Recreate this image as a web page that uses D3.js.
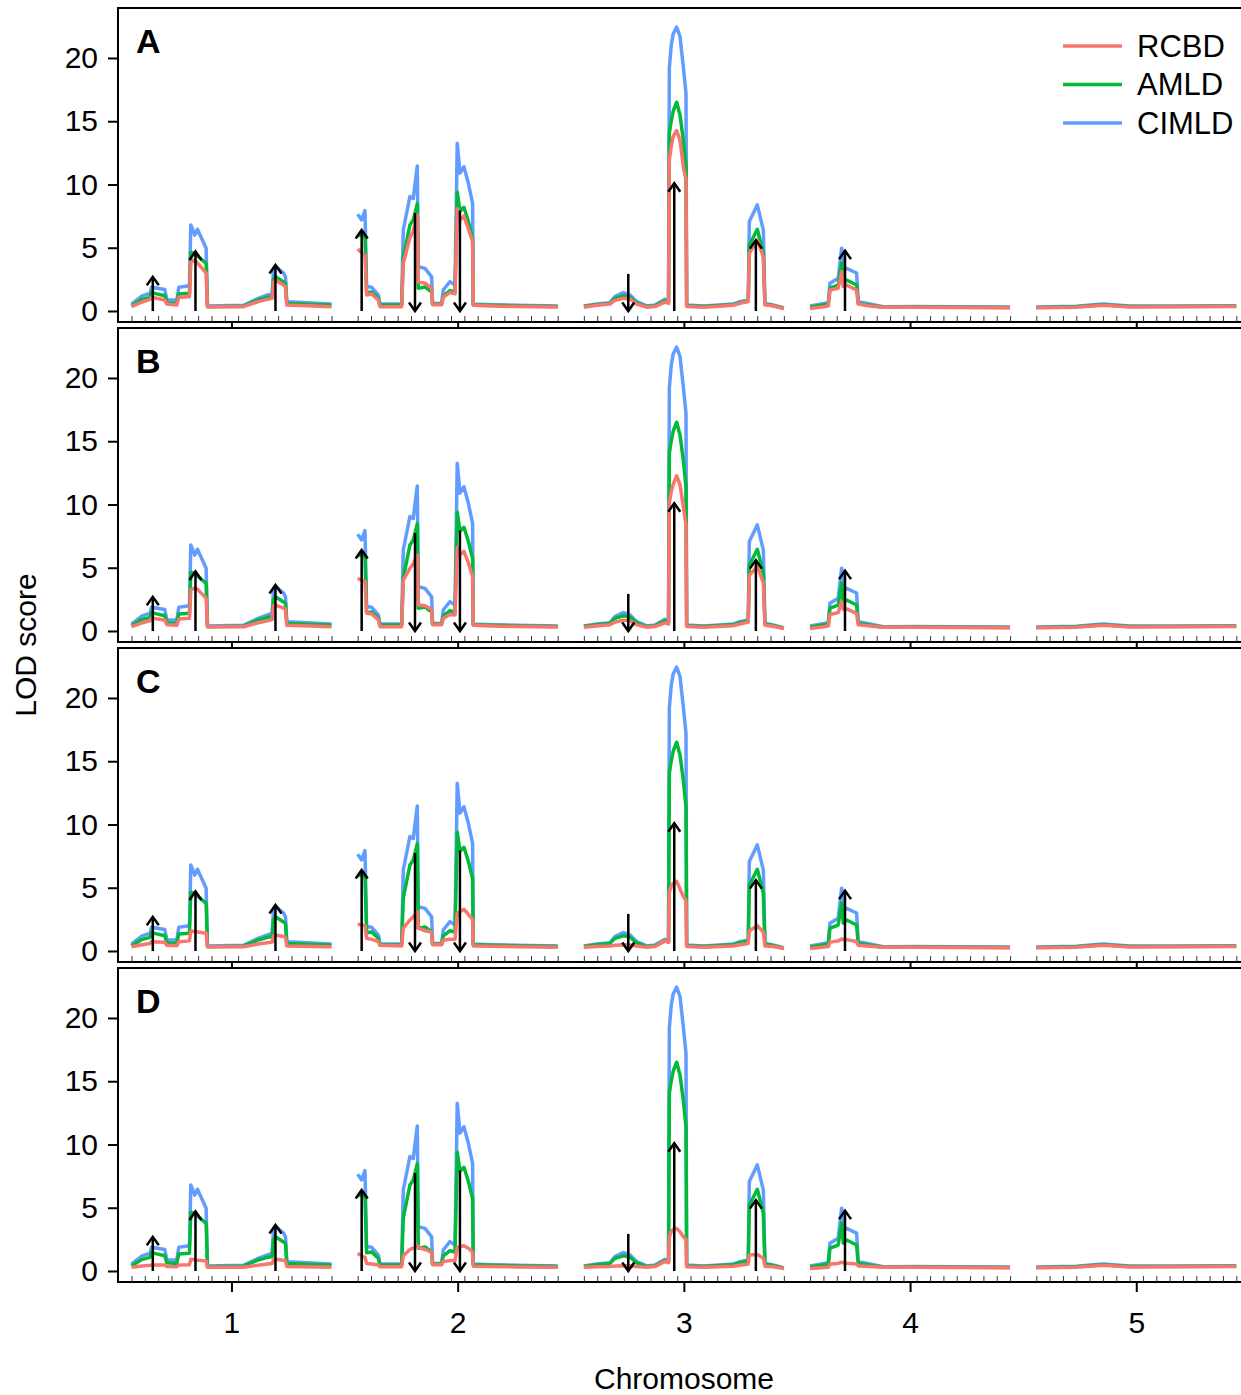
<!DOCTYPE html>
<meta charset="utf-8">
<style>
body { margin: 0; background: #fff; }
text { font-family: "Liberation Sans", Arial, sans-serif; fill: #000; }
</style>
<body>
<svg width="1241" height="1395"></svg>
<script src="https://d3js.org/d3.v7.min.js"></script>
<script>

// ---- data ----
var chromosomes = ["1", "2", "3", "4", "5"];
var panels = ["A", "B", "C", "D"];
var seriesNames = ["RCBD", "AMLD", "CIMLD"];
var yTicks = [0, 5, 10, 15, 20];
var markers = [0, 10, 20, 30, 40, 50, 60, 70, 80, 90, 100, 110, 120, 130, 140, 150];

// positions (cM) within each chromosome
var pos1 = [0, 8, 14, 15, 25, 26.5, 34, 35.5, 43.5, 44.5, 47.5, 49.5, 56, 57, 84, 95, 102, 105.5, 106.5, 108, 114, 115.5, 116.5, 150];
var pos2 = [0, 3, 5.5, 6.7, 10.5, 15.5, 16.7, 33, 34.2, 39.2, 41.7, 44.7, 45.5, 50.5, 55.5, 56.2, 63, 64.2, 69.2, 73, 74.7, 76.7, 79.7, 83, 86.2, 86.7, 100, 120, 150];
var pos3 = [0, 9.6, 19.6, 23.3, 29.6, 34.6, 39.6, 47.1, 53.3, 60.8, 63.5, 64.1, 65.5, 67, 69.6, 72.1, 74.6, 76.6, 77.1, 90, 112, 117, 123.3, 124.1, 130.1, 134.6, 135.8, 142, 150];
var pos4 = [0, 13.7, 14.9, 21.1, 23.7, 24.9, 27.4, 34.9, 36.1, 45, 55, 80, 110, 150];
var pos5 = [0, 30, 50, 70, 100, 150];

// CIMLD (same in every panel)
var cimld1 = [0.55, 1.2, 1.4, 1.87, 1.7, 0.87, 0.87, 1.87, 2.0, 6.8, 6.0, 6.46, 4.96, 0.4, 0.45, 1.0, 1.27, 1.4, 3.24, 3.56, 3.0, 2.7, 0.74, 0.55];
var cimld2 = [7.65, 7.2, 7.94, 1.93, 1.87, 1.27, 0.55, 0.55, 6.4, 9.05, 8.9, 11.47, 3.5, 3.37, 2.7, 0.6, 0.6, 1.66, 2.32, 2.06, 13.26, 10.9, 11.4, 10.1, 8.5, 0.55, 0.5, 0.45, 0.4];
var cimld3 = [0.4, 0.55, 0.66, 1.13, 1.45, 1.27, 0.74, 0.4, 0.47, 0.92, 0.8, 19.2, 21.0, 21.9, 22.44, 21.7, 19.3, 17.2, 0.47, 0.4, 0.55, 0.74, 0.87, 7.07, 8.39, 6.4, 0.6, 0.47, 0.25];
var cimld4 = [0.4, 0.66, 2.19, 2.58, 4.96, 3.24, 3.37, 3.0, 0.74, 0.55, 0.34, 0.36, 0.34, 0.32];
var cimld5 = [0.32, 0.38, 0.55, 0.4, 0.4, 0.42];

// AMLD (same in every panel)
var amld1 = [0.4, 0.92, 1.08, 1.45, 1.2, 0.66, 0.6, 1.35, 1.4, 4.6, 4.56, 4.35, 3.77, 0.34, 0.38, 0.87, 1.08, 1.13, 2.5, 2.7, 2.3, 2.2, 0.6, 0.45];
var amld2 = [5.9, 6.1, 5.8, 1.45, 1.5, 1.0, 0.47, 0.47, 4.17, 6.8, 7.2, 8.47, 1.8, 1.9, 1.5, 0.55, 0.55, 1.2, 1.6, 1.5, 9.4, 7.9, 8.2, 7.1, 5.7, 0.5, 0.45, 0.4, 0.35];
var amld3 = [0.35, 0.5, 0.6, 1.0, 1.2, 1.1, 0.65, 0.35, 0.4, 0.8, 0.7, 14.05, 15.0, 15.8, 16.5, 15.5, 13.5, 11.4, 0.4, 0.35, 0.5, 0.65, 0.8, 5.2, 6.46, 4.56, 0.55, 0.42, 0.22];
var amld4 = [0.3, 0.55, 1.8, 2.05, 3.77, 2.2, 2.45, 2.05, 0.6, 0.45, 0.3, 0.32, 0.3, 0.28];
var amld5 = [0.28, 0.34, 0.5, 0.36, 0.36, 0.38];

// RCBD, one set per panel
var rcbdA1 = [0.34, 0.71, 0.92, 1.08, 0.87, 0.55, 0.47, 1.08, 1.13, 3.9, 4.03, 3.8, 3.0, 0.34, 0.34, 0.74, 0.92, 1.0, 2.24, 2.45, 2.05, 1.92, 0.47, 0.34];
var rcbdA2 = [4.9, 4.6, 4.4, 1.27, 1.35, 0.87, 0.34, 0.34, 3.77, 5.8, 6.3, 7.6, 2.3, 2.2, 1.8, 0.5, 0.5, 1.1, 1.45, 1.35, 8.1, 7.2, 7.5, 6.5, 5.5, 0.45, 0.4, 0.35, 0.32];
var rcbdA3 = [0.3, 0.45, 0.55, 0.85, 1.0, 0.95, 0.55, 0.3, 0.35, 0.7, 0.6, 11.95, 13.0, 13.8, 14.27, 13.5, 11.4, 10.36, 0.35, 0.3, 0.45, 0.6, 0.75, 4.56, 5.6, 4.3, 0.5, 0.4, 0.2];
var rcbdA4 = [0.2, 0.4, 1.66, 1.8, 3.1, 1.93, 2.05, 1.66, 0.55, 0.4, 0.3, 0.3, 0.28, 0.26];
var rcbdA5 = [0.25, 0.3, 0.45, 0.32, 0.33, 0.36];

var rcbdB1 = [0.34, 0.65, 0.8, 1.0, 0.87, 0.5, 0.45, 0.95, 1.0, 3.24, 3.4, 3.3, 2.6, 0.34, 0.34, 0.65, 0.8, 0.9, 2.0, 2.05, 1.8, 1.75, 0.45, 0.34];
var rcbdB2 = [4.17, 4.0, 3.9, 1.4, 1.35, 0.9, 0.34, 0.34, 4.0, 4.96, 5.3, 6.0, 2.05, 2.0, 1.7, 0.5, 0.5, 1.0, 1.3, 1.27, 6.6, 6.0, 6.3, 5.4, 4.3, 0.45, 0.4, 0.35, 0.32];
var rcbdB3 = [0.3, 0.4, 0.5, 0.7, 0.85, 0.8, 0.5, 0.3, 0.35, 0.65, 0.55, 10.1, 11.0, 11.6, 12.26, 11.55, 9.84, 8.4, 0.35, 0.3, 0.42, 0.55, 0.7, 4.4, 5.1, 3.8, 0.45, 0.38, 0.2];
var rcbdB4 = [0.2, 0.4, 1.3, 1.45, 2.3, 1.7, 1.75, 1.4, 0.5, 0.4, 0.3, 0.3, 0.28, 0.26];
var rcbdB5 = [0.25, 0.3, 0.45, 0.32, 0.33, 0.36];

var rcbdC1 = [0.34, 0.5, 0.6, 0.74, 0.7, 0.45, 0.42, 0.74, 0.8, 1.58, 1.55, 1.5, 1.4, 0.34, 0.34, 0.55, 0.65, 0.7, 1.2, 1.27, 1.15, 1.1, 0.4, 0.34];
var rcbdC2 = [2.14, 2.05, 2.0, 1.0, 0.92, 0.74, 0.45, 0.4, 1.8, 2.45, 2.7, 3.1, 1.8, 1.6, 1.5, 0.5, 0.5, 0.85, 0.92, 0.92, 3.0, 3.1, 3.3, 2.9, 2.5, 0.4, 0.38, 0.34, 0.3];
var rcbdC3 = [0.3, 0.35, 0.4, 0.45, 0.5, 0.48, 0.4, 0.3, 0.35, 0.8, 0.7, 4.7, 5.1, 5.35, 5.5, 4.9, 4.3, 4.0, 0.35, 0.3, 0.4, 0.5, 0.6, 1.6, 2.0, 1.5, 0.4, 0.35, 0.2];
var rcbdC4 = [0.2, 0.35, 0.7, 0.8, 0.95, 0.9, 0.9, 0.75, 0.45, 0.38, 0.3, 0.3, 0.28, 0.26];
var rcbdC5 = [0.25, 0.3, 0.45, 0.32, 0.33, 0.36];

var rcbdD1 = [0.3, 0.4, 0.45, 0.47, 0.47, 0.36, 0.34, 0.47, 0.5, 0.92, 0.9, 0.85, 0.8, 0.3, 0.3, 0.45, 0.55, 0.6, 0.88, 0.92, 0.85, 0.8, 0.36, 0.3];
var rcbdD2 = [1.4, 1.2, 1.08, 0.6, 0.55, 0.47, 0.34, 0.34, 1.2, 1.7, 1.8, 2.0, 1.87, 1.7, 1.5, 0.5, 0.5, 0.75, 0.82, 0.82, 1.87, 1.9, 2.0, 1.8, 1.5, 0.38, 0.35, 0.32, 0.3];
var rcbdD3 = [0.3, 0.33, 0.36, 0.4, 0.42, 0.4, 0.36, 0.3, 0.35, 0.75, 0.65, 2.7, 3.1, 3.3, 3.35, 3.1, 2.7, 2.5, 0.33, 0.3, 0.38, 0.45, 0.55, 1.27, 1.3, 1.0, 0.38, 0.33, 0.2];
var rcbdD4 = [0.2, 0.3, 0.55, 0.6, 0.7, 0.65, 0.62, 0.55, 0.4, 0.35, 0.3, 0.3, 0.28, 0.26];
var rcbdD5 = [0.25, 0.3, 0.45, 0.32, 0.33, 0.36];

// simulated QTL arrows (chromosome, cM, length in LOD units, direction)
var arrowChr = [1, 1, 1, 2, 2, 2, 3, 3, 3, 4];
var arrowPos = [16, 48, 108, 3, 43, 76.7, 33.3, 67.8, 129, 26.2];
var arrowLen = [2.7, 4.7, 3.64, 6.4, 7.75, 7.94, 2.93, 10.1, 5.6, 4.77];
var arrowDir = ["up", "up", "up", "up", "down", "down", "down", "up", "up", "up"];

// ---- layout ----
var chrPos = [pos1, pos2, pos3, pos4, pos5];
var cimld = [cimld1, cimld2, cimld3, cimld4, cimld5];
var amld = [amld1, amld2, amld3, amld4, amld5];
var rcbd = {
  A: [rcbdA1, rcbdA2, rcbdA3, rcbdA4, rcbdA5],
  B: [rcbdB1, rcbdB2, rcbdB3, rcbdB4, rcbdB5],
  C: [rcbdC1, rcbdC2, rcbdC3, rcbdC4, rcbdC5],
  D: [rcbdD1, rcbdD2, rcbdD3, rcbdD4, rcbdD5]
};
var colors = { RCBD: "#F8766D", AMLD: "#00BA38", CIMLD: "#619CFF" };

var chrLength = 150, chrGap = 19.65;
var panelTop = [8, 328, 648, 968], panelH = 314;
var left = 118, right = 1250;
var font = 30;

function gpos(c, p) { return c * (chrLength + chrGap) + p; }

var svg = d3.select("svg");
var x = d3.scaleLinear().domain([-10.1, 838.9]).range([left, right]);

panels.forEach(function (pn, pi) {
  var top = panelTop[pi];
  var y = d3.scaleLinear().domain([-0.87, 23.95]).range([top + panelH, top]);
  var g = svg.append("g");

  // frame
  g.append("rect")
    .attr("x", left).attr("y", top)
    .attr("width", right - left).attr("height", panelH)
    .attr("fill", "#fff").attr("stroke", "#000").attr("stroke-width", 2);

  // marker ticks, inward
  chromosomes.forEach(function (c, ci) {
    g.append("g")
      .attr("transform", "translate(0," + (top + panelH) + ")")
      .call(d3.axisBottom(x).tickValues(markers.map(function (m) { return gpos(ci, m); }))
        .tickSize(-6).tickFormat(""))
      .call(function (s) {
        s.select(".domain").remove();
        s.selectAll("line").attr("stroke", "#333").attr("stroke-width", 1);
      });
  });

  // chromosome ticks, outward
  var xa = g.append("g")
    .attr("transform", "translate(0," + (top + panelH) + ")")
    .call(d3.axisBottom(x)
      .tickValues(chromosomes.map(function (c, ci) { return gpos(ci, chrLength / 2); }))
      .tickSize(10).tickPadding(20)
      .tickFormat(function (d, i) { return pi === panels.length - 1 ? chromosomes[i] : ""; }));
  xa.select(".domain").remove();
  xa.selectAll("line").attr("stroke", "#000").attr("stroke-width", 2);
  xa.selectAll("text").attr("font-size", font).attr("font-family", null);

  // y axis
  var ya = g.append("g")
    .attr("transform", "translate(" + left + ",0)")
    .call(d3.axisLeft(y).tickValues(yTicks).tickSize(10).tickPadding(10));
  ya.select(".domain").remove();
  ya.selectAll("line").attr("stroke", "#000").attr("stroke-width", 2);
  ya.selectAll("text").attr("font-size", font).attr("font-family", null);

  // LOD curves
  var seriesVals = { CIMLD: cimld, AMLD: amld, RCBD: rcbd[pn] };
  ["CIMLD", "AMLD", "RCBD"].forEach(function (s) {
    chromosomes.forEach(function (c, ci) {
      var pts = chrPos[ci].map(function (p, k) { return [gpos(ci, p), seriesVals[s][ci][k]]; });
      g.append("path")
        .datum(pts)
        .attr("fill", "none")
        .attr("stroke", colors[s])
        .attr("stroke-width", 3.5)
        .attr("stroke-linejoin", "round")
        .attr("d", d3.line().x(function (d) { return x(d[0]); }).y(function (d) { return y(d[1]); }));
    });
  });

  // arrows
  arrowPos.forEach(function (p, k) {
    var ax = x(gpos(arrowChr[k] - 1, p));
    var y0 = y(0), y1 = y(arrowLen[k]);
    g.append("line")
      .attr("x1", ax).attr("x2", ax).attr("y1", y0).attr("y2", y1)
      .attr("stroke", "#000").attr("stroke-width", 2.5);
    var tipY = arrowDir[k] === "up" ? y1 : y0;
    var d = arrowDir[k] === "up" ? 8.5 : -8.5;
    g.append("path")
      .attr("d", "M" + (ax - 6) + "," + (tipY + d) + "L" + ax + "," + tipY + "L" + (ax + 6) + "," + (tipY + d))
      .attr("fill", "none").attr("stroke", "#000").attr("stroke-width", 2.5);
  });

  // panel letter
  g.append("text")
    .attr("x", 136).attr("y", top + 45)
    .attr("font-size", 34).attr("font-weight", "bold")
    .text(pn);

  // legend in first panel
  if (pi === 0) {
    seriesNames.forEach(function (s, k) {
      var ly = 46 + k * 38.5;
      g.append("line")
        .attr("x1", 1063).attr("x2", 1122).attr("y1", ly).attr("y2", ly)
        .attr("stroke", colors[s]).attr("stroke-width", 3.5);
      g.append("text")
        .attr("x", 1137).attr("y", ly).attr("dy", "0.35em")
        .attr("font-size", 31)
        .text(s);
    });
  }
});

// axis titles
svg.append("text")
  .attr("transform", "translate(36,645) rotate(-90)")
  .attr("text-anchor", "middle")
  .attr("font-size", font)
  .text("LOD score");

svg.append("text")
  .attr("x", 684).attr("y", 1389)
  .attr("text-anchor", "middle")
  .attr("font-size", font)
  .text("Chromosome");

</script>
</body>
